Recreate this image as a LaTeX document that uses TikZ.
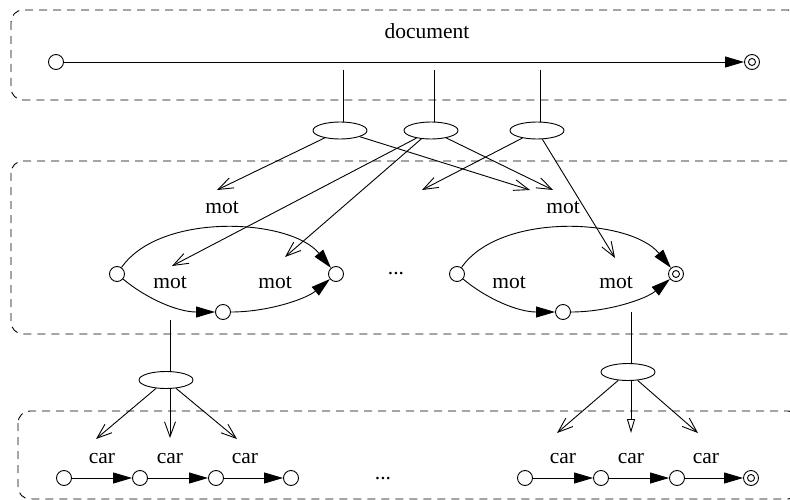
\documentclass[tikz,border=0pt]{standalone}
\usepackage{fontspec}
\setmainfont{Liberation Serif}
\usetikzlibrary{shapes.geometric,arrows.meta}
\begin{document}
\begin{tikzpicture}[x=1pt,y=-1pt,line width=0.9pt,
  font=\fontsize{21.5}{26}\selectfont,
  state/.style={circle,draw,minimum size=15pt,inner sep=0pt},
  innerring/.style={circle,draw,minimum size=7pt,inner sep=0pt},
  hub/.style={ellipse,draw,minimum width=54pt,minimum height=17pt,inner sep=0pt},
  lbl/.style={anchor=base,inner sep=0pt},
  trans/.style={-{Triangle[length=19pt,width=11pt]}},
  link/.style={-{Straight Barb[length=15pt,width=11pt]}},
  linktri/.style={-{Triangle[open,length=14pt,width=8pt]}},
  zone/.style={dash pattern=on 8pt off 6pt,rounded corners=12pt,line width=0.9pt}]
\useasboundingbox (0,0) rectangle (790,500);

% dashed zones
\draw[zone] (11,10) rectangle (800,100);
\draw[zone] (11,161) rectangle (800,334);
\draw[zone] (18,411) rectangle (800,499);

% document level
\node[state] (s0) at (56,62) {};
\node[state] (sf) at (752,62) {};
\node[innerring] (sfi) at (sf) {};
\draw[trans] (s0) -- (sf);
\node[lbl] (ldoc) at (427,39) {document};

\coordinate (v1) at (343,70);
\coordinate (v2) at (434,70);
\coordinate (v3) at (540,70);
\node[hub] (e1) at (340,130.5) {};
\node[hub] (e2) at (431,130.5) {};
\node[hub] (e3) at (537,130.5) {};
\draw (v1) -- (v1 |- e1.north);
\draw (v2) -- (v2 |- e2.north);
\draw (v3) -- (v3 |- e3.north);

\coordinate (t1) at (217,190);
\coordinate (t2) at (530,190);
\coordinate (t3) at (172,266);
\coordinate (t4) at (285,257);
\coordinate (t5) at (553,190);
\coordinate (t6) at (422,190);
\coordinate (t7) at (615,258);
\draw[link] (e1) -- (t1);
\draw[link] (e1) -- (t2);
\draw[link] (e2) -- (t3);
\draw[link] (e2) -- (t4);
\draw[link] (e2) -- (t5);
\draw[link] (e3) -- (t6);
\draw[link] (e3) -- (t7);

% word level
\node[lbl] (m1) at (222,213) {mot};
\node[lbl] (m2) at (563,213) {mot};

\node[state] (a1) at (117,274) {};
\node[state] (a2) at (223,312) {};
\node[state] (a3) at (336,274) {};
\draw[trans] (a1) .. controls +(43,-62) and +(-46,-56) .. (a3);
\draw[trans] (a1) .. controls +(30,25) and +(-45,0) .. (a2);
\draw[trans] (a2) .. controls +(45,0) and +(-30,25) .. (a3);
\node[lbl] (m3) at (170,288) {mot};
\node[lbl] (m4) at (275,288) {mot};

\node[lbl] (dots1) at (396,274) {...};

\node[state] (b1) at (457,274) {};
\node[state] (b2) at (563,312) {};
\node[state] (b3) at (676,274) {};
\node[innerring] (b3i) at (b3) {};
\draw[trans] (b1) .. controls +(43,-62) and +(-46,-56) .. (b3);
\draw[trans] (b1) .. controls +(30,25) and +(-45,0) .. (b2);
\draw[trans] (b2) .. controls +(45,0) and +(-30,25) .. (b3);
\node[lbl] (m5) at (509,288) {mot};
\node[lbl] (m6) at (616,288) {mot};

% links to character level
\coordinate (v4) at (170,320);
\coordinate (v5) at (631,312);
\node[hub] (e4) at (166,380) {};
\node[hub] (e5) at (628,372) {};
\draw (v4) -- (v4 |- e4.north);
\draw (v5) -- (v5 |- e5.north);

\coordinate (u1) at (96,439);
\coordinate (u2) at (170,438);
\coordinate (u3) at (237,439);
\coordinate (w1) at (557,433);
\coordinate (w2) at (631,433);
\coordinate (w3) at (698,433);
\draw[link] (e4) -- (u1);
\draw[link] (u2 |- e4.south) -- (u2);
\draw[link] (e4) -- (u3);
\draw[link] (e5) -- (w1);
\draw[linktri] (w2 |- e5.south) -- (w2);
\draw[link] (e5) -- (w3);

% character level
\node[state] (c1) at (64,478) {};
\node[state] (c2) at (140,478) {};
\node[state] (c3) at (216,478) {};
\node[state] (c4) at (291,478) {};
\draw[trans] (c1) -- (c2);
\draw[trans] (c2) -- (c3);
\draw[trans] (c3) -- (c4);
\node[lbl] (k1) at (102,463) {car};
\node[lbl] (k2) at (170,463) {car};
\node[lbl] (k3) at (245,463) {car};

\node[lbl] (dots2) at (383,479) {...};

\node[state] (d1) at (525,478) {};
\node[state] (d2) at (601,478) {};
\node[state] (d3) at (677,478) {};
\node[state] (d4) at (751,478) {};
\node[innerring] (d4i) at (d4) {};
\draw[trans] (d1) -- (d2);
\draw[trans] (d2) -- (d3);
\draw[trans] (d3) -- (d4);
\node[lbl] (k4) at (563,463) {car};
\node[lbl] (k5) at (631,463) {car};
\node[lbl] (k6) at (706,463) {car};
\end{tikzpicture}
\end{document}
